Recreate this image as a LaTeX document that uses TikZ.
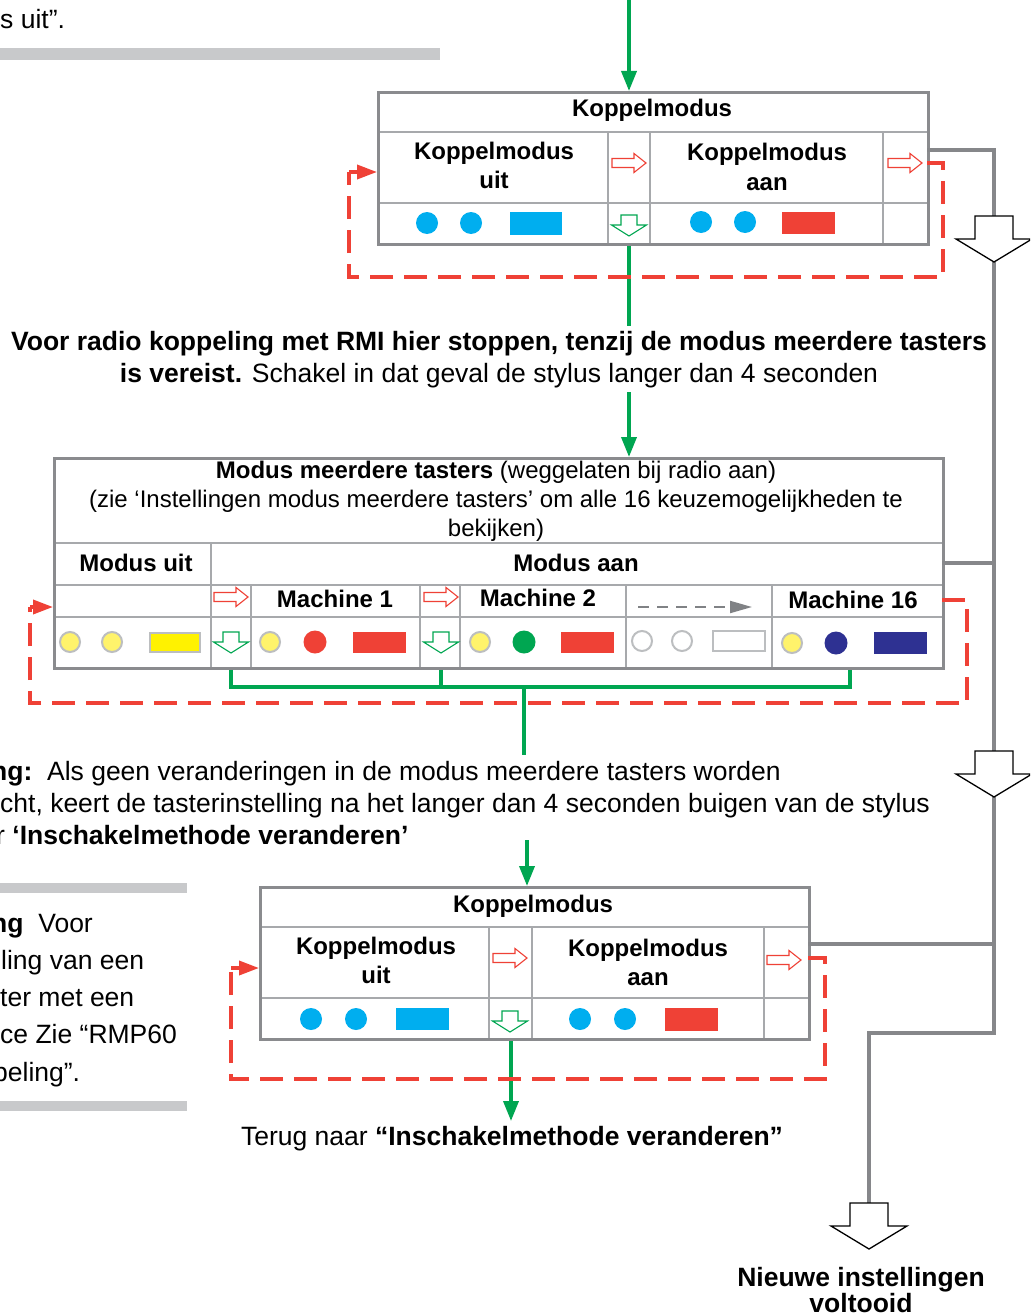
\documentclass[tikz,border=0pt]{standalone}
\usepackage{fontspec}
\setmainfont{Liberation Sans}
\usetikzlibrary{arrows.meta}
\definecolor{pgreen}{HTML}{00A651}
\definecolor{pred}{HTML}{EF4136}
\definecolor{pcyan}{HTML}{00AEEF}
\definecolor{pyel}{HTML}{FFF200}
\definecolor{plyel}{HTML}{FFF36B}
\definecolor{pnavy}{HTML}{2E3192}
\definecolor{framegray}{HTML}{8A8B8E}
\definecolor{linegray}{HTML}{A7A9AC}
\definecolor{conngray}{HTML}{86878A}
\definecolor{bargray}{HTML}{C8C9CB}
\definecolor{ringgray}{HTML}{BCBEC0}
\definecolor{dashgray}{HTML}{808285}
\begin{document}
\begin{tikzpicture}[x=1pt,y=-1pt,
  frame/.style={draw=framegray, line width=2.8pt, inner sep=0pt, anchor=north west},
  inl/.style={draw=linegray, line width=1.4pt},
  gconn/.style={draw=pgreen, line width=3.6pt},
  garr/.style={gconn, -{Triangle[length=20pt,width=15pt]}},
  grconn/.style={draw=conngray, line width=4pt},
  rdash/.style={draw=pred, line width=3.6pt, dash pattern=on 23pt off 11pt},
  rtip/.style={draw=pred, line width=3.6pt, -{Triangle[length=20pt,width=14pt]}},
  bt/.style={font=\fontsize{24}{29}\selectfont\bfseries, inner sep=0pt, anchor=base},
  bn/.style={font=\fontsize{24}{29}\selectfont, inner sep=0pt, anchor=base},
  body/.style={font=\fontsize{26.5}{32}\selectfont, inner sep=0pt},
  bodyb/.style={font=\fontsize{26.5}{32}\selectfont\bfseries, inner sep=0pt},
  ycirc/.style={fill=plyel, draw=ringgray, line width=2pt},
  ecirc/.style={fill=white, draw=ringgray, line width=2pt},
  rarr/.pic={\draw[pred, line width=1.1pt, fill=white] (-17,-4.5) -- (5,-4.5) -- (5,-9.5) -- (17,0) -- (5,9.5) -- (5,4.5) -- (-17,4.5) -- cycle;},
  darr/.pic={\draw[pgreen, line width=1.1pt, fill=white] (-8,-11) -- (8,-11) -- (8,-1) -- (17.5,-1) -- (0,10) -- (-17.5,-1) -- (-8,-1) -- cycle;},
  bigarr/.pic={\draw[black, line width=1.3pt, fill=white] (-19,0) -- (19,0) -- (19,23) -- (38,23) -- (0,46) -- (-38,23) -- (-19,23) -- cycle;}
]
\useasboundingbox (0,0) rectangle (1030,1316);
\clip (0,0) rectangle (1030,1316);
\fill[white] (0,0) rectangle (1030,1316);

% ---------- gray bars and loose texts ----------
\fill[bargray] (0,48) rectangle (440,60);
\fill[bargray] (0,883) rectangle (187,893);
\fill[bargray] (0,1101) rectangle (187,1111);
\node[body, anchor=base west] (t0) at (0,29) {s uit”.};

% ---------- top Koppelmodus box ----------
\draw[inl] (377,132) -- (927,132);
\draw[inl] (377,203) -- (927,203);
\foreach \x in {608,650,883} \draw[inl] (\x,132) -- (\x,243);
\node[frame, minimum width=550pt, minimum height=152pt] (kt) at (377,91) {};
\node[bt] (kth) at (652,117) {Koppelmodus};
\node[bt] (ktu) at (494,160) {Koppelmodus};
\node[bt] (ktu2) at (494,189) {uit};
\node[bt] (kta) at (767,161) {Koppelmodus};
\node[bt] (kta2) at (767,190) {aan};
\pic at (629,163) {rarr};
\pic at (905,163) {rarr};
\pic at (629,226) {darr};
\fill[pcyan] (427,223) circle[radius=11pt];
\fill[pcyan] (471,223) circle[radius=11pt];
\fill[pcyan] (510,212) rectangle (562,235);
\fill[pcyan] (701,222) circle[radius=11pt];
\fill[pcyan] (745,222) circle[radius=11pt];
\fill[pred] (782,212) rectangle (835,234);

% ---------- middle text ----------
\node[bodyb, anchor=base] (v1) at (499,350) {Voor radio koppeling met RMI hier stoppen, tenzij de modus meerdere tasters};
\node[body, anchor=base] (v2) at (499,382) {\textbf{is vereist.} Schakel in dat geval de stylus langer dan 4 seconden};

% ---------- Modus meerdere tasters box ----------
\draw[inl] (53,543) -- (942,543);
\draw[inl] (53,585) -- (942,585);
\draw[inl] (53,617) -- (942,617);
\draw[inl] (211,543) -- (211,667);
\foreach \x in {251,420,460,626,772} \draw[inl] (\x,585) -- (\x,667);
\node[frame, minimum width=889pt, minimum height=210pt] (mm) at (53,457) {};
\node[bt] (mh1) at (496,478) {Modus meerdere tasters \mdseries(weggelaten bij radio aan)};
\node[bn] (mh2) at (496,507) {(zie ‘Instellingen modus meerdere tasters’ om alle 16 keuzemogelijkheden te};
\node[bn] (mh3) at (496,536) {bekijken)};
\node[bt] (muit) at (136,571) {Modus uit};
\node[bt] (maan) at (576,571) {Modus aan};
\node[bt] (m1) at (335,607) {Machine 1};
\node[bt] (m2) at (538,606) {Machine 2};
\node[bt] (m16) at (853,608) {Machine 16};
\pic at (231,597) {rarr};
\pic at (441,597) {rarr};
\pic at (231,643) {darr};
\pic at (441,643) {darr};
\coordinate (dA) at (638,607);
\coordinate (dB) at (752,607);
\draw[dashgray, line width=2pt, dash pattern=on 11pt off 8pt, -{Triangle[length=22pt,width=12pt]}] (dA) -- (dB);
% row of lamps
\draw[ycirc] (70,642) circle[radius=10pt];
\draw[ycirc] (112,642) circle[radius=10pt];
\draw[fill=pyel, draw=ringgray, line width=2pt] (150,633) rectangle (200,652);
\draw[ycirc] (270,642) circle[radius=10pt];
\fill[pred] (315,642) circle[radius=11.5pt];
\fill[pred] (353,632) rectangle (406,653);
\draw[ycirc] (480,642) circle[radius=10pt];
\fill[pgreen] (524,642) circle[radius=11.5pt];
\fill[pred] (561,632) rectangle (614,653);
\draw[ecirc] (642,641) circle[radius=10pt];
\draw[ecirc] (682,641) circle[radius=10pt];
\draw[ecirc] (713,631) rectangle (765,651);
\draw[ycirc] (792,643) circle[radius=10pt];
\fill[pnavy] (836,643) circle[radius=11.5pt];
\fill[pnavy] (874,632) rectangle (927,654);

% ---------- note text ----------
\node[body, anchor=base west] (n1) at (-9,780) {\textbf{ng:}\ \ Als geen veranderingen in de modus meerdere tasters worden};
\node[body, anchor=base west] (n2) at (0,812) {cht, keert de tasterinstelling na het langer dan 4 seconden buigen van de stylus};
\node[body, anchor=base west] (n3) at (-4,844) {r \textbf{‘Inschakelmethode veranderen’}};

\node[body, anchor=base west] (l1) at (-9,932) {\textbf{ng}\ \ Voor};
\node[body, anchor=base west] (l2) at (1,969) {ling van een};
\node[body, anchor=base west] (l3) at (0,1006) {ter met een};
\node[body, anchor=base west] (l4) at (0,1043) {ce Zie “RMP60};
\node[body, anchor=base west] (l5) at (-7,1081) {peling”.};

% ---------- bottom Koppelmodus box ----------
\draw[inl] (259,927) -- (808,927);
\draw[inl] (259,998) -- (808,998);
\foreach \x in {489,532,764} \draw[inl] (\x,927) -- (\x,1038);
\node[frame, minimum width=549pt, minimum height=152pt] (kb) at (259,886) {};
\node[bt] (kbh) at (533,912) {Koppelmodus};
\node[bt] (kbu) at (376,954) {Koppelmodus};
\node[bt] (kbu2) at (376,983) {uit};
\node[bt] (kba) at (648,956) {Koppelmodus};
\node[bt] (kba2) at (648,985) {aan};
\pic at (510,958) {rarr};
\pic at (784,960) {rarr};
\pic at (510,1022) {darr};
\fill[pcyan] (311,1019) circle[radius=11pt];
\fill[pcyan] (356,1019) circle[radius=11pt];
\fill[pcyan] (396,1008) rectangle (449,1030);
\fill[pcyan] (580,1019) circle[radius=11pt];
\fill[pcyan] (625,1019) circle[radius=11pt];
\fill[pred] (665,1008) rectangle (718,1031);

\node[body, anchor=base] (terug) at (512,1145) {Terug naar \textbf{“Inschakelmethode veranderen”}};
\node[bodyb, anchor=base] (nw1) at (861,1286) {Nieuwe instellingen};
\node[bodyb, anchor=base] (nw2) at (861,1312) {voltooid};

% ---------- green connectors ----------
\coordinate (g0) at (629,0);
\draw[garr] (g0) -- (g0 |- kt.north);
\coordinate (g1) at (629,326);
\draw[gconn] (g0 |- kt.south) -- (g1);
\coordinate (g2) at (629,392);
\draw[garr] (g2) -- (g2 |- mm.north);
\coordinate (gm1) at (231,687);
\coordinate (gm2) at (441,687);
\coordinate (gm3) at (850,687);
\coordinate (gm4) at (524,687);
\coordinate (gm5) at (524,755);
\draw[gconn] (gm1 |- mm.south) -- (gm1) -- (gm3) -- (gm3 |- mm.south);
\draw[gconn] (gm2 |- mm.south) -- (gm2);
\draw[gconn] (gm4) -- (gm5);
\coordinate (g3) at (527,840);
\draw[garr] (g3) -- (g3 |- kb.north);
\coordinate (g4) at (511,1121);
\draw[garr] (g4 |- kb.south) -- (g4);

% ---------- red dashed loops ----------
\coordinate (ktR) at (927,163);
\coordinate (ktL) at (377,172);
\draw[rdash] (ktR) -- (943,163) -- (943,277) -- (349,277) -- (349,172);
\draw[rtip] (349,172) -- (ktL);
\coordinate (mmR) at (942,600);
\coordinate (mmL) at (53,607);
\draw[rdash] (mmR) -- (967,600) -- (967,703) -- (30,703) -- (30,607);
\draw[rtip] (30,607) -- (mmL);
\coordinate (kbR) at (808,958);
\coordinate (kbL) at (259,968);
\draw[rdash] (kbR) -- (825,958) -- (825,1079) -- (231,1079) -- (231,968);
\draw[rtip] (231,968) -- (kbL);

% ---------- gray connectors and big arrows ----------
\coordinate (ktO) at (927,150);
\coordinate (mmO) at (942,563);
\coordinate (kbO) at (808,944);
\coordinate (B1) at (994,216);
\coordinate (B1t) at (994,262);
\coordinate (B2) at (994,751);
\coordinate (B2t) at (994,797);
\coordinate (B3) at (869,1203);
\draw[grconn] (ktO) -| (B1);
\draw[grconn] (B1t) -- (B2);
\draw[grconn] (mmO) -- (mmO -| B1);
\draw[grconn] (kbO) -- (kbO -| B1);
\draw[grconn] (B2t) -- (994,1033) -| (B3);
\pic at (B1) {bigarr};
\pic at (B2) {bigarr};
\pic at (B3) {bigarr};
\end{tikzpicture}
\end{document}
